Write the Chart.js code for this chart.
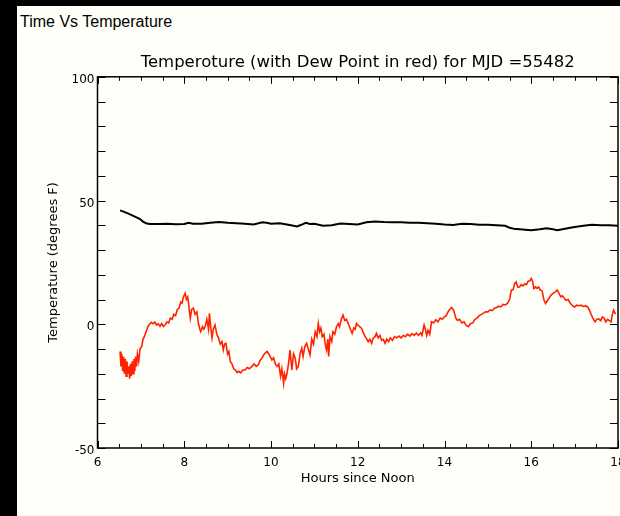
<!DOCTYPE html>
<html>
<head>
<meta charset="utf-8">
<title>Time Vs Temperature</title>
<script src="https://cdn.jsdelivr.net/npm/chart.js@4"></script>
<style>
    html, body {
        margin: 0;
        padding: 0;
        width: 620px;
        height: 516px;
        overflow: hidden;
        background: #000;
    }
    .panel {
        position: absolute;
        left: 17px;
        top: 6px;
        right: 0;
        bottom: 0;
        background: #fffffa;
    }
    .page-title {
        position: absolute;
        left: 20px;
        top: 13px;
        font: 16px/18px "Liberation Sans", Arial, sans-serif;
        color: #000;
    }
    #tempChart {
        position: absolute;
        left: 0;
        top: 0;
    }
</style>
</head>
<body>
<div class="panel"></div>
<div class="page-title">Time Vs Temperature</div>
<canvas id="tempChart" width="640" height="516"></canvas>

<script>
// Air temperature (black), hours since noon
const tempHours = [6.52, 6.60, 6.70, 6.80, 6.90, 6.98, 7.05, 7.12, 7.20, 7.40, 7.60, 7.80, 8.00, 8.10, 8.20, 8.40,
    8.60, 8.80, 9.00, 9.20, 9.40, 9.60, 9.80, 9.90, 10.00, 10.20, 10.40, 10.60, 10.70, 10.80, 10.90, 11.00,
    11.20, 11.40, 11.60, 11.80, 12.00, 12.20, 12.40, 12.60, 12.80, 13.00, 13.20, 13.40, 13.60, 13.80, 14.00,
    14.20, 14.40, 14.60, 14.80, 15.00, 15.20, 15.40, 15.50, 15.60, 15.80, 16.00, 16.20, 16.35, 16.50, 16.60,
    16.75, 16.90, 17.00, 17.20, 17.40, 17.60, 17.80, 18.00];
const temperature = [46, 45.5, 44.8, 44, 43.2, 42.5, 41.5, 40.8, 40.5, 40.5, 40.6, 40.4, 40.5, 41, 40.6, 40.6,
    41, 41.3, 41, 40.8, 40.6, 40.3, 41.2, 41, 40.6, 40.8, 40.2, 39.5, 40.2, 41, 40.5, 40.6,
    39.8, 40, 40.7, 40.5, 40.3, 41.2, 41.5, 41.3, 41.2, 41.2, 41, 41, 40.8, 40.6, 40.3,
    40.1, 40.6, 40.5, 40.2, 40.2, 40, 39.8, 39, 38.6, 38.3, 38, 38.4, 38.8, 38.4, 38,
    38.5, 39, 39.3, 39.8, 40.2, 40, 40, 39.8];

// Dew point (red), hours since noon
const dewHours = [
    6.52, 6.54, 6.56, 6.58, 6.60, 6.62, 6.64, 6.66, 6.68, 6.70,
    6.72, 6.74, 6.76, 6.78, 6.80, 6.82, 6.84, 6.86, 6.88, 6.90,
    6.92, 6.95, 6.98, 7.02, 7.05, 7.08, 7.12, 7.16, 7.20, 7.24,
    7.28, 7.32, 7.36, 7.40, 7.44, 7.48, 7.52, 7.56, 7.60, 7.64,
    7.68, 7.72, 7.76, 7.80, 7.84, 7.88, 7.92, 7.95, 7.98, 8.02,
    8.05, 8.08, 8.10, 8.12, 8.14, 8.17, 8.21, 8.25, 8.29, 8.33,
    8.36, 8.38, 8.42, 8.45, 8.48, 8.52, 8.56, 8.58, 8.61, 8.64,
    8.67, 8.71, 8.75, 8.79, 8.83, 8.87, 8.90, 8.93, 8.96, 9.00,
    9.03, 9.06, 9.10, 9.14, 9.18, 9.22, 9.26, 9.30, 9.35, 9.40,
    9.45, 9.50, 9.56, 9.61, 9.66, 9.71, 9.75, 9.80, 9.83, 9.87,
    9.91, 9.95, 9.98, 10.02, 10.06, 10.10, 10.14, 10.18, 10.22, 10.25,
    10.29, 10.31, 10.34, 10.37, 10.41, 10.44, 10.48, 10.52, 10.56, 10.59,
    10.63, 10.67, 10.71, 10.74, 10.78, 10.82, 10.86, 10.90, 10.94, 10.98,
    11.02, 11.06, 11.09, 11.12, 11.15, 11.18, 11.22, 11.25, 11.28, 11.31,
    11.33, 11.36, 11.40, 11.43, 11.47, 11.51, 11.55, 11.58, 11.62, 11.66,
    11.70, 11.74, 11.78, 11.82, 11.87, 11.91, 11.94, 11.97, 12.01, 12.05,
    12.09, 12.13, 12.17, 12.21, 12.24, 12.28, 12.32, 12.36, 12.40, 12.43,
    12.47, 12.51, 12.55, 12.59, 12.63, 12.67, 12.71, 12.75, 12.80, 12.85,
    12.90, 12.95, 13.00, 13.05, 13.10, 13.15, 13.20, 13.25, 13.30, 13.35,
    13.40, 13.45, 13.48, 13.51, 13.53, 13.56, 13.59, 13.62, 13.66, 13.70,
    13.75, 13.80, 13.85, 13.90, 13.95, 14.00, 14.04, 14.08, 14.12, 14.16,
    14.20, 14.23, 14.26, 14.30, 14.35, 14.40, 14.45, 14.50, 14.55, 14.60,
    14.65, 14.70, 14.75, 14.80, 14.85, 14.90, 14.95, 15.00, 15.05, 15.10,
    15.15, 15.20, 15.25, 15.30, 15.35, 15.40, 15.45, 15.50, 15.54, 15.58,
    15.62, 15.65, 15.69, 15.73, 15.77, 15.81, 15.85, 15.89, 15.93, 15.97,
    16.00, 16.03, 16.06, 16.10, 16.13, 16.17, 16.21, 16.25, 16.29, 16.33,
    16.37, 16.41, 16.45, 16.50, 16.55, 16.60, 16.64, 16.68, 16.72, 16.76,
    16.80, 16.85, 16.90, 16.95, 17.00, 17.05, 17.10, 17.15, 17.20, 17.25,
    17.30, 17.34, 17.38, 17.42, 17.47, 17.51, 17.55, 17.60, 17.64, 17.68,
    17.72, 17.76, 17.80, 17.84, 17.87, 17.90, 17.93, 17.95];
const dewPoint = [
    -11, -17, -12, -19, -13, -20, -14, -21, -15, -20,
    -17, -22, -16, -21, -15, -20, -14, -19, -13, -17,
    -12, -15, -10, -9, -6, -5, -3, -1, 0, 0.8,
    0.2, 0.9, -0.3, 0.2, -0.8, 0.3, -0.9, -0.2, 1, 0.5,
    2.5, 2, 4, 3.5, 6, 6.5, 9, 8.5, 11, 12.5,
    10, 11, 8.5, 5, 2.4, 6, 6.5, 4, 5, 0,
    -2, -3, -1, -2, -1, 2, -2, 4.4, -1, -5.5,
    -2, -0.3, -4, -5.5, -8, -7, -10.4, -8, -7.7, -12,
    -11, -15, -16, -18, -18.5, -19.5, -19, -19.6, -18.5, -18.5,
    -17.5, -18, -17, -16, -17, -16.4, -14.5, -13.5, -12.4, -11.5,
    -11, -12, -13, -14.4, -13.5, -16, -17, -16, -21, -18,
    -23.8, -20, -22, -19.8, -15, -10.4, -18.5, -12, -13.8, -18,
    -17, -12, -9.7, -13, -9, -7.7, -10, -12.4, -6, -8,
    -3, -5, 0.3, -3, -1.5, -5, -4, -8, -10.4, -6,
    -13, -5, -7, -3, -4, -1, 0.3, -1, 2, 3.7,
    1.5, 2, 0.3, -1.5, -3.7, -1.5, -2, 0.3, -0.5, -1,
    -1.7, -3.5, -5, -6, -7.1, -6, -7.7, -5.5, -5, -3.7,
    -5.5, -4.5, -6.5, -6.1, -7.7, -6, -7, -5.5, -6.5, -5,
    -5.5, -4.8, -5.5, -4.5, -5, -4, -4.8, -3.8, -4.5, -3.5,
    -4.5, -3.5, -4.5, -2, -0.3, -2, -4.5, -2.5, -4, 1,
    0.5, 1.8, 1, 2.5, 2, 3, 3.5, 5, 6, 6.8,
    6, 4.5, 2.5, 1.5, 2, 0.5, 1, -0.5, -1, 0.3,
    0.5, 2, 2.5, 3.5, 4, 4.5, 5, 5, 5.8, 5.5,
    6.5, 6.8, 7.3, 7, 8, 7.8, 8.4, 10, 13.8, 14,
    16.5, 17.1, 15, 15.1, 16, 15.5, 16.4, 16, 17.5, 17.5,
    18.5, 17.5, 14.4, 15.1, 14.5, 15.1, 13.8, 13.5, 10, 8.4,
    9.5, 10.5, 11.7, 12.5, 13, 13.8, 12.5, 11.1, 11.5, 10.5,
    9.7, 10, 8.5, 7.5, 7, 7.7, 7.5, 7.7, 7.2, 7.4,
    7, 5.7, 4, 2.5, 1, 2, 2.3, 1.5, 3, 2.5,
    1, 2, 1.5, 1, 4, 5.7, 4.4, 4.5];

// Axis ticks
const xMajorStep = 2;
const xMinorStep = 0.5;
const yMajorStep = 50;
const yMinorStep = 10;

const PLOT_FONT = '"DejaVu Sans", sans-serif';

// Draws the closed frame with inward tick marks on all four sides
const frameTicks = {
    id: 'frameTicks',
    afterDraw(chart) {
        const { ctx, chartArea: a, scales: { x, y } } = chart;
        ctx.save();
        ctx.strokeStyle = '#000';
        ctx.lineWidth = 1.5;
        ctx.strokeRect(a.left, a.top, a.right - a.left, a.bottom - a.top);

        ctx.lineWidth = 1;
        ctx.beginPath();
        for (let h = x.min; h <= x.max + 1e-9; h += xMinorStep) {
            const px = Math.round(x.getPixelForValue(h)) + 0.5;
            const len = Math.abs(h % xMajorStep) < 1e-9 ? 7 : 4;
            ctx.moveTo(px, a.bottom);
            ctx.lineTo(px, a.bottom - len);
            ctx.moveTo(px, a.top);
            ctx.lineTo(px, a.top + len);
        }
        for (let v = y.min; v <= y.max + 1e-9; v += yMinorStep) {
            const py = Math.round(y.getPixelForValue(v)) + 0.5;
            ctx.moveTo(a.left, py);
            ctx.lineTo(a.left + 8, py);
            ctx.moveTo(a.right, py);
            ctx.lineTo(a.right - 8, py);
        }
        ctx.stroke();
        ctx.restore();
    }
};

class TemperatureChart {
    constructor(canvasId) {
        this.canvas = document.getElementById(canvasId);
        this.init();
    }

    toPoints(xs, ys) {
        return xs.map((h, i) => ({ x: h, y: ys[i] }));
    }

    init() {
        new Chart(this.canvas.getContext('2d'), {
            type: 'line',
            data: {
                datasets: [{
                    label: 'Temperature',
                    data: this.toPoints(tempHours, temperature),
                    borderColor: '#000',
                    borderWidth: 2,
                    pointRadius: 0,
                    tension: 0
                }, {
                    label: 'Dew Point',
                    data: this.toPoints(dewHours, dewPoint),
                    borderColor: '#ff2200',
                    borderWidth: 1.6,
                    pointRadius: 0,
                    tension: 0
                }]
            },
            options: {
                responsive: false,
                animation: false,
                devicePixelRatio: 1,
                layout: {
                    padding: { left: 40, right: 22, top: 0, bottom: 0 }
                },
                plugins: {
                    legend: { display: false },
                    tooltip: { enabled: false },
                    title: {
                        display: true,
                        fullSize: false,
                        text: 'Temperoture (with Dew Point in red) for MJD =55482',
                        color: '#000',
                        font: { family: PLOT_FONT, size: 16.5, weight: 'normal' },
                        padding: { top: 53, bottom: 4 }
                    }
                },
                scales: {
                    x: {
                        type: 'linear',
                        min: 6,
                        max: 18,
                        afterFit: (scale) => { scale.height = 68; },
                        grid: { display: false, drawTicks: false },
                        border: { display: false },
                        ticks: {
                            stepSize: xMajorStep,
                            color: '#000',
                            font: { family: PLOT_FONT, size: 12 },
                            padding: 8,
                            maxRotation: 0
                        },
                        title: {
                            display: true,
                            text: 'Hours since Noon',
                            color: '#000',
                            font: { family: PLOT_FONT, size: 13 },
                            padding: { top: 0, bottom: 30 }
                        }
                    },
                    y: {
                        min: -50,
                        max: 100,
                        afterFit: (scale) => { scale.width = 57.5; },
                        grid: { display: false, drawTicks: false },
                        border: { display: false },
                        ticks: {
                            stepSize: yMajorStep,
                            color: '#000',
                            font: { family: PLOT_FONT, size: 12 },
                            padding: 3,
                            labelOffset: 3
                        },
                        title: {
                            display: true,
                            text: 'Temperature (degrees F)',
                            color: '#000',
                            font: { family: PLOT_FONT, size: 13 },
                            padding: { top: 6, bottom: 0 }
                        }
                    }
                }
            },
            plugins: [frameTicks]
        });
    }
}

document.addEventListener('DOMContentLoaded', () => {
    new TemperatureChart('tempChart');
});
</script>
</body>
</html>
